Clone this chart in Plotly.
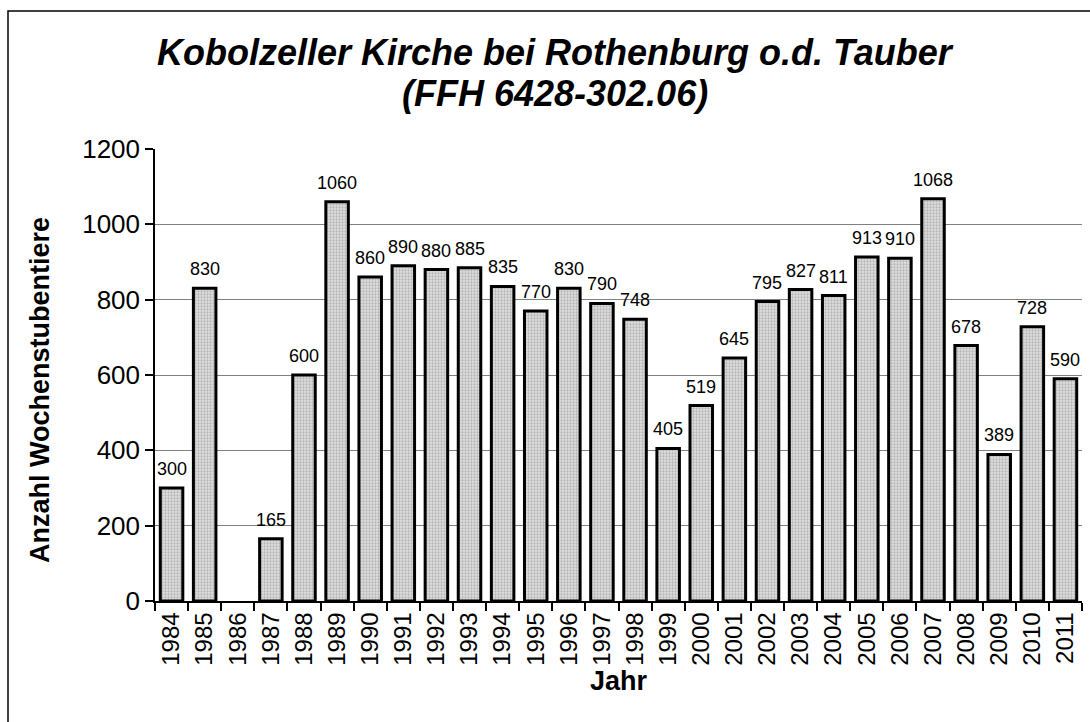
import plotly.graph_objects as go

years = [str(y) for y in range(1984, 2012)]
values = [300, 830, None, 165, 600, 1060, 860, 890, 880, 885, 835, 770, 830, 790,
          748, 405, 519, 645, 795, 827, 811, 913, 910, 1068, 678, 389, 728, 590]
title_lines = ["Kobolzeller Kirche bei Rothenburg o.d. Tauber", "(FFH 6428-302.06)"]

FONT = "Arial, 'Liberation Sans', sans-serif"

fig = go.Figure(go.Bar(
    x=years, y=values,
    marker=dict(color="#c8c8c8", line=dict(color="black", width=3),
                pattern=dict(shape=".", fgcolor="#8a8a8a", bgcolor="#e0e0e0",
                             size=3, solidity=0.45)),
    width=0.68,
))

L, R, T, B = 155, 8, 149, 121
W, H = 1090, 722
pw, ph = W - L - R, H - T - B

annotations = []
for i, v in enumerate(values):
    if v is None:
        continue
    annotations.append(dict(x=i, y=v, xref="x", yref="y", text=str(v), showarrow=False,
                            yanchor="bottom", yshift=7,
                            font=dict(family=FONT, size=18, color="black")))
for line, yc in zip(title_lines, [52, 93]):
    annotations.append(dict(x=(555 - L) / pw, y=(H - B - yc) / ph, xref="paper", yref="paper",
                            text=f"<b><i>{line}</i></b>", showarrow=False,
                            xanchor="center", yanchor="middle",
                            font=dict(family=FONT, size=36, color="black")))
annotations.append(dict(x=(40 - L) / pw, y=(H - B - 390) / ph, xref="paper", yref="paper",
                        text="<b>Anzahl Wochenstubentiere</b>", textangle=-90, showarrow=False,
                        xanchor="center", yanchor="middle",
                        font=dict(family=FONT, size=27, color="black")))

fig.update_layout(
    width=W, height=H, margin=dict(l=L, r=R, t=T, b=B),
    paper_bgcolor="white", plot_bgcolor="white", showlegend=False,
    font=dict(family=FONT, color="black"),
    annotations=annotations,
    shapes=[dict(type="rect", xref="paper", yref="paper",
                 x0=(8 - L) / pw, x1=(W + 20 - L) / pw,
                 y0=-(B + 20) / ph, y1=(H - B - 11) / ph,
                 line=dict(color="black", width=1.5), fillcolor="rgba(0,0,0,0)", layer="below")],
)

fig.update_xaxes(
    type="category", range=[-0.5, len(years) - 0.5], autorange=False,
    tickson="boundaries", ticks="outside", ticklen=8, tickwidth=1.5,
    tickcolor="black", showline=True, linecolor="black", linewidth=1.5,
    tickangle=-90, tickfont=dict(family=FONT, size=24, color="black"),
    title=dict(text="<b>Jahr</b>", font=dict(family=FONT, size=27, color="black"), standoff=4),
    showgrid=False,
)
fig.update_yaxes(
    range=[0, 1200], tickvals=[0, 200, 400, 600, 800, 1000, 1200],
    ticks="outside", ticklen=8, tickwidth=1.5, tickcolor="black",
    showline=True, linecolor="black", linewidth=1.5,
    showgrid=True, gridcolor="#808080", gridwidth=1, zeroline=False,
    tickfont=dict(family=FONT, size=26, color="black"),
)

fig.write_html("out.html", config={"displayModeBar": False},
               post_script="document.body.style.margin='0';document.body.style.overflow='hidden';")
